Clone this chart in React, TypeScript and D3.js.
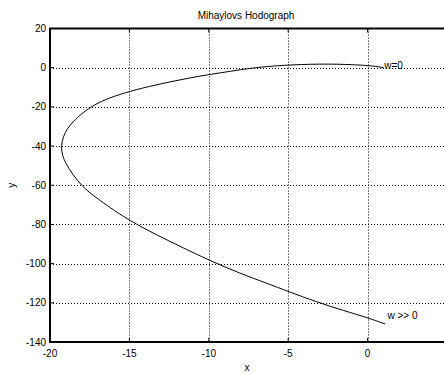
import * as d3 from "d3";

// hodograph points, from w=0 to w >> 0
const xVals = [
  1.0, 0.4, -0.9, -3.0, -5.3, -7.2, -8.67, -10.0, -11.6, -13.35, -15.0, -16.33,
  -17.2, -18.0, -18.55, -18.9, -19.17, -19.3, -19.24, -19.0, -18.55, -18.0,
  -17.48, -17.0, -16.3, -15.0, -13.3, -11.6, -10.0, -8.03, -6.35, -5.0, -3.2,
  -1.5, 0.0, 1.1,
];
const yVals = [
  0.0, 0.9, 1.6, 2.0, 1.3, 0.0, -1.9, -3.5, -5.8, -8.8, -12.0, -15.6, -18.8,
  -23.3, -27.6, -30.9, -35.2, -39.8, -44.5, -49.0, -54.8, -60.2, -64.0, -66.8,
  -71.0, -78.0, -85.3, -92.0, -98.2, -105.0, -110.0, -114.2, -119.6, -124.0,
  -127.6, -130.8,
];
const xTicks = [-20, -15, -10, -5, 0];
const yTicks = [20, 0, -20, -40, -60, -80, -100, -120, -140];
const labels = [
  { text: "w=0", x: 1.05, y: 0 },
  { text: "w >> 0", x: 1.25, y: -128 },
];

const W = 444;
const H = 373;
const M = { left: 50, top: 28.5, right: 447, bottom: 342 };
const FONT = "Arial, 'Liberation Sans', Helvetica, sans-serif";

export default function App() {
  const x = d3.scaleLinear().domain([-20, 5]).range([M.left, M.right]);
  const y = d3.scaleLinear().domain([-140, 20]).range([M.bottom, M.top]);

  const pts: [number, number][] = xVals.map((v, i) => [v, yVals[i]]);
  const line = d3
    .line<[number, number]>()
    .x((d) => x(d[0]))
    .y((d) => y(d[1]))
    .curve(d3.curveBasis);

  return (
    <svg
      width={W}
      height={H}
      style={{ position: "absolute", left: 0, top: 0, background: "#fff" }}
      fontFamily={FONT}
    >
      <rect width={W} height={H} fill="#fff" />
      {/* grid */}
      {xTicks.slice(1).map((t) => (
        <line
          key={"gx" + t}
          x1={Math.round(x(t)) + 0.5}
          x2={Math.round(x(t)) + 0.5}
          y1={M.top}
          y2={M.bottom}
          stroke="#000"
          strokeDasharray="1,2"
        />
      ))}
      {yTicks.slice(1, -1).map((t) => (
        <line
          key={"gy" + t}
          x1={M.left}
          x2={M.right}
          y1={Math.round(y(t)) + 0.5}
          y2={Math.round(y(t)) + 0.5}
          stroke="#000"
          strokeDasharray="1,2"
        />
      ))}

      {/* curve */}
      <path d={line(pts) ?? ""} fill="none" stroke="#000" strokeWidth={1} />

      {/* axes box */}
      <rect
        x={M.left}
        y={M.top}
        width={M.right - M.left}
        height={M.bottom - M.top}
        fill="none"
        stroke="#000"
        strokeWidth={2}
      />
      {xTicks.map((t) => (
        <g key={"tx" + t}>
          <line x1={x(t)} x2={x(t)} y1={M.bottom} y2={M.bottom - 4} stroke="#000" />
          <line x1={x(t)} x2={x(t)} y1={M.top} y2={M.top + 4} stroke="#000" />
          <text x={x(t)} y={357} fontSize={10} textAnchor="middle">
            {t}
          </text>
        </g>
      ))}
      {yTicks.map((t) => (
        <g key={"ty" + t}>
          <line x1={M.left} x2={M.left + 4} y1={y(t)} y2={y(t)} stroke="#000" />
          <text x={46} y={y(t) + 3.5} fontSize={10} textAnchor="end">
            {t}
          </text>
        </g>
      ))}

      {labels.map((l) => (
        <text key={l.text} x={x(l.x)} y={y(l.y) + 1} fontSize={10}>
          {l.text}
        </text>
      ))}

      <text x={246} y={19} fontSize={10} textAnchor="middle">
        Mihaylovs Hodograph
      </text>
      <text x={247} y={371} fontSize={10} textAnchor="middle">
        x
      </text>
      <text
        transform={`translate(15,${(M.top + M.bottom) / 2}) rotate(-90)`}
        fontSize={10}
        textAnchor="middle"
      >
        y
      </text>
    </svg>
  );
}
